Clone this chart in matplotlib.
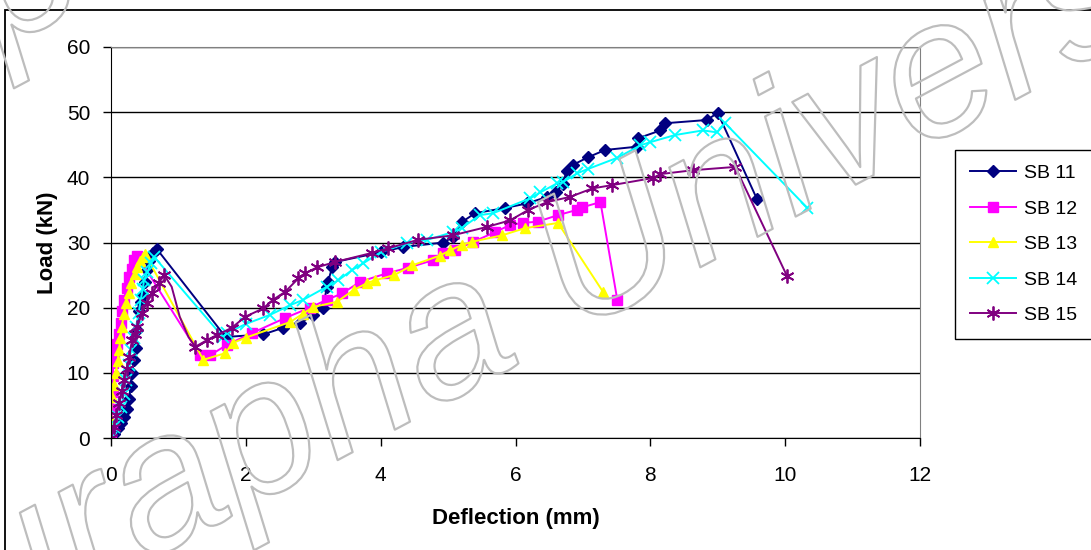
import matplotlib
matplotlib.use('Agg')
import matplotlib.pyplot as plt
import matplotlib.patheffects as pe
from matplotlib.patches import Rectangle

plt.rcParams['font.family'] = ['Liberation Sans', 'DejaVu Sans']

# load-deflection readings, one pair of lists per beam
sb11_x = [0, 0.05, 0.1, 0.15, 0.19, 0.23, 0.27, 0.29, 0.31, 0.34, 0.37, 0.39, 0.41, 0.44, 0.47, 0.5,
          0.53, 0.56, 0.62, 0.68, 1.7, 2.26, 2.55, 2.8, 3.0, 3.15, 3.2, 3.22, 3.28, 3.32, 4.0, 4.33,
          4.93, 5.07, 5.2, 5.4, 5.85, 6.17, 6.47, 6.6, 6.7, 6.76, 6.85, 7.08, 7.33, 7.8, 7.82, 8.15,
          8.22, 8.84, 9.0, 9.58]
sb11_y = [0, 0.6, 1.5, 2.3, 3.2, 4.5, 6.0, 8.0, 10.0, 12.0, 13.8, 16.5, 19.5, 20.8, 22.0, 24.0,
          25.8, 27.2, 28.4, 29.0, 15.5, 15.9, 16.9, 17.6, 18.9, 20.0, 23.2, 24.0, 26.2, 27.0, 28.5, 29.3,
          30.0, 30.8, 33.1, 34.5, 35.3, 36.0, 37.0, 37.7, 39.0, 41.0, 41.9, 43.1, 44.2, 44.7, 46.0, 47.2,
          48.3, 48.8, 49.9, 36.7]

sb12_x = [0, 0.01, 0.02, 0.03, 0.03, 0.03, 0.05, 0.09, 0.12, 0.15, 0.17, 0.19, 0.23, 0.27, 0.31, 0.34,
          0.39, 1.32, 1.47, 1.72, 2.09, 2.58, 2.95, 3.2, 3.43, 3.7, 4.1, 4.4, 4.78, 4.93, 5.1, 5.37,
          5.7, 5.92, 6.11, 6.33, 6.63, 6.91, 6.99, 7.26, 7.51]
sb12_y = [0, 2.0, 4.5, 7.0, 9.5, 11.5, 13.0, 14.5, 16.0, 17.6, 19.5, 21.2, 23.0, 24.7, 26.0, 27.3,
          28.0, 12.7, 12.7, 14.3, 16.1, 18.4, 20.0, 21.2, 22.2, 24.0, 25.3, 26.1, 27.3, 28.4, 28.8, 30.1,
          31.6, 32.7, 33.0, 33.2, 34.2, 35.0, 35.4, 36.2, 21.2]

sb13_x = [0, 0.0, 0.01, 0.04, 0.07, 0.1, 0.12, 0.14, 0.16, 0.19, 0.22, 0.26, 0.3, 0.35, 0.39, 0.43,
          0.47, 0.5, 1.37, 1.69, 1.81, 2.0, 2.66, 2.85, 3.0, 3.35, 3.6, 3.8, 3.92, 4.2, 4.47, 4.88,
          5.03, 5.2, 5.35, 5.8, 6.14, 6.63, 7.3]
sb13_y = [0, 2.8, 6.3, 8.2, 10.0, 11.8, 13.5, 15.3, 17.0, 19.0, 20.7, 22.3, 23.8, 25.2, 26.2, 27.1,
          27.8, 28.3, 12.0, 13.0, 14.6, 15.4, 17.8, 19.1, 20.1, 20.9, 22.7, 23.8, 24.2, 25.0, 26.5, 28.0,
          28.8, 29.6, 30.1, 31.1, 32.2, 33.0, 22.4]

sb14_x = [0, 0.04, 0.1, 0.15, 0.19, 0.22, 0.26, 0.3, 0.34, 0.37, 0.41, 0.44, 0.47, 0.49, 0.54, 0.59,
          0.64, 1.66, 1.72, 2.0, 2.36, 2.66, 2.85, 3.2, 3.37, 3.58, 3.74, 4.0, 4.39, 4.69, 5.07, 5.2,
          5.47, 5.67, 6.22, 6.37, 6.62, 6.71, 6.91, 7.08, 7.51, 7.85, 8.0, 8.37, 8.78, 8.99, 9.11, 10.33]
sb14_y = [0, 1.7, 3.2, 4.8, 6.8, 8.9, 11.2, 13.5, 15.3, 17.0, 19.2, 21.2, 22.8, 24.2, 25.5, 26.8,
          27.8, 15.5, 16.1, 17.5, 18.9, 20.4, 21.2, 23.2, 24.2, 25.8, 26.8, 28.5, 29.9, 30.4, 31.6, 32.2,
          34.2, 34.5, 36.8, 37.7, 39.1, 39.3, 40.6, 41.3, 43.0, 44.9, 45.4, 46.5, 47.2, 46.9, 48.3, 35.3]

sb15_x = [0, 0.04, 0.08, 0.12, 0.16, 0.19, 0.23, 0.27, 0.31, 0.35, 0.39, 0.46, 0.53, 0.61, 0.71, 0.79,
          0.9, 1.02, 1.15, 1.25, 1.42, 1.57, 1.79, 1.99, 2.26, 2.4, 2.58, 2.78, 2.88, 3.06, 3.32, 3.87,
          4.11, 4.55, 5.07, 5.58, 5.92, 6.19, 6.47, 6.81, 7.14, 7.43, 8.04, 8.15, 8.64, 9.26, 10.03]
sb15_y = [0, 1.7, 3.5, 5.4, 7.2, 8.9, 10.6, 12.4, 15.0, 16.0, 17.0, 19.2, 20.7, 22.2, 23.8, 25.0,
          23.2, 18.6, 15.5, 14.0, 15.0, 15.8, 16.9, 18.6, 19.9, 21.2, 22.4, 24.5, 25.3, 26.2, 27.0, 28.4,
          29.1, 30.4, 31.1, 32.4, 33.4, 35.0, 36.2, 37.0, 38.3, 38.8, 39.9, 40.5, 41.1, 41.6, 24.8]
# points on the SB 15 drop that carry no marker
sb15_plain = [16, 17, 18]

labels = ['SB 11', 'SB 12', 'SB 13', 'SB 14', 'SB 15']
colors = ['#000080', '#ff00ff', '#ffff00', '#00ffff', '#800080']

W, H = 1091, 550
fig = plt.figure(figsize=(W / 100, H / 100), dpi=100)
ax = fig.add_axes([111 / W, 1 - 438 / H, (920 - 111) / W, (438 - 47) / H])

series = [(sb11_x, sb11_y), (sb12_x, sb12_y), (sb13_x, sb13_y), (sb14_x, sb14_y), (sb15_x, sb15_y)]
styles = [dict(marker='D', ms=6.5),
          dict(marker='s', ms=6.5),
          dict(marker='^', ms=7.5),
          dict(marker='x', ms=8, mew=1.3),
          dict(marker=(6, 2, 0), ms=10, mew=1.3,
               markevery=[i for i in range(len(sb15_x)) if i not in sb15_plain])]
for (xs, ys), lab, col, st in zip(series, labels, colors, styles):
    ax.plot(xs, ys, color=col, lw=1.4, label=lab, mfc=col, mec=col, **st)

ax.set_xlim(0, 12)
ax.set_ylim(0, 60)
ax.set_xticks(range(0, 13, 2))
ax.set_yticks(range(0, 61, 10))
ax.yaxis.grid(True, color='black', lw=1.0)
ax.set_axisbelow(True)
ax.tick_params(labelsize=15, length=6, width=1, direction='out')
ax.tick_params(axis='y', pad=9)
ax.tick_params(axis='x', pad=14)
for s in ['top', 'right']:
    ax.spines[s].set_color('#808080')
for s in ['left', 'bottom']:
    ax.spines[s].set_color('black')

ax.set_xlabel('Deflection (mm)', fontsize=16, fontweight='bold', labelpad=17)
ax.set_ylabel('Load (kN)', fontsize=16, fontweight='bold', labelpad=6)

fig.legend(loc='upper left', bbox_to_anchor=(955 / W, 1 - 150 / H), fontsize=14,
           frameon=True, fancybox=False, edgecolor='black', framealpha=1,
           handlelength=2.4, labelspacing=0.92, borderpad=0.75, borderaxespad=0,
           handletextpad=0.4)

# outer chart border
fig.patches.append(Rectangle((5 / W, -0.5), 2, 1.5 - 10 / H, transform=fig.transFigure,
                             fill=False, ec='black', lw=1.3))

# outlined watermark, repeated along two parallel rows
mark = dict(fontsize=140, style='italic', rotation=28, ha='center', va='center',
            color='none', zorder=10,
            path_effects=[pe.withStroke(linewidth=1.6, foreground='#bdbdbd')])
fig.text(0.53, 0.50, 'Burapha University', **mark)
fig.text(0.53 - 0.22, 0.50 + 0.84, 'Burapha University', **mark)

fig.savefig('out.png', dpi=100)
